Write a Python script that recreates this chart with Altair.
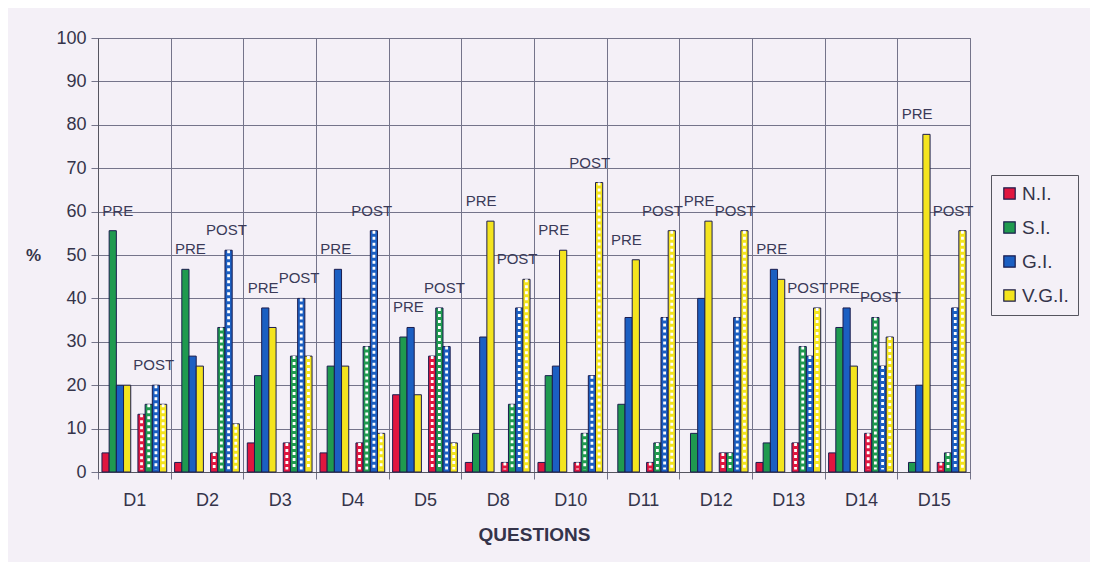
import altair as alt
import pandas as pd

questions = ["D1", "D2", "D3", "D4", "D5", "D8", "D10", "D11", "D12", "D13", "D14", "D15"]
levels = ["N.I.", "S.I.", "G.I.", "V.G.I."]
level_colors = ["#e0163f", "#1f9a4f", "#1b5fc2", "#f4e41e"]
phases = ["PRE", "POST"]

pre_ni = [4.4, 2.2, 6.7, 4.4, 17.8, 2.2, 2.2, 0.0, 0.0, 2.2, 4.4, 0.0]
pre_si = [55.6, 46.7, 22.2, 24.4, 31.1, 8.9, 22.2, 15.6, 8.9, 6.7, 33.3, 2.2]
pre_gi = [20.0, 26.7, 37.8, 46.7, 33.3, 31.1, 24.4, 35.6, 40.0, 46.7, 37.8, 20.0]
pre_vgi = [20.0, 24.4, 33.3, 24.4, 17.8, 57.8, 51.1, 48.9, 57.8, 44.4, 24.4, 77.8]

post_ni = [13.3, 4.4, 6.7, 6.7, 26.7, 2.2, 2.2, 2.2, 4.4, 6.7, 8.9, 2.2]
post_si = [15.6, 33.3, 26.7, 28.9, 37.8, 15.6, 8.9, 6.7, 4.4, 28.9, 35.6, 4.4]
post_gi = [20.0, 51.1, 40.0, 55.6, 28.9, 37.8, 22.2, 35.6, 35.6, 26.7, 24.4, 37.8]
post_vgi = [15.6, 11.1, 26.7, 8.9, 6.7, 44.4, 66.7, 55.6, 55.6, 37.8, 31.1, 55.6]

series = {
    ("PRE", "N.I."): pre_ni, ("PRE", "S.I."): pre_si,
    ("PRE", "G.I."): pre_gi, ("PRE", "V.G.I."): pre_vgi,
    ("POST", "N.I."): post_ni, ("POST", "S.I."): post_si,
    ("POST", "G.I."): post_gi, ("POST", "V.G.I."): post_vgi,
}

slots = [f"PRE-{l}" for l in levels] + ["gap"] + [f"POST-{l}" for l in levels]

rows = []
for (ph, lv), vals in series.items():
    for q, v in zip(questions, vals):
        rows.append({"question": q, "phase": ph, "level": lv, "slot": f"{ph}-{lv}", "value": v})
df = pd.DataFrame(rows)

lab_rows = []
for q in questions:
    for ph in phases:
        m = df[(df.question == q) & (df.phase == ph)]["value"].max()
        lab_rows.append({"question": q, "phase": ph, "slot": f"{ph}-S.I.", "value": m})
labels_df = pd.DataFrame(lab_rows)

BG = "#f4f0f7"
INK = "#34344a"
GRID = "#74748a"
FONT = "Liberation Sans"

x_scale = alt.Scale(domain=questions, paddingInner=0, paddingOuter=0)
off_scale = alt.Scale(domain=slots, paddingInner=0, paddingOuter=0.55)
y_scale = alt.Scale(domain=[0, 100], nice=False)

x_axis = alt.Axis(
    title="QUESTIONS", titleFontSize=19, titleFontWeight="bold", titleColor=INK,
    titlePadding=16, labelFontSize=18, labelColor=INK, labelAngle=0, labelPadding=12,
    tickBand="extent", grid=True, gridColor=GRID, gridWidth=1, tickSize=7,
    tickColor=GRID, domainColor="#555560", labelFont=FONT, titleFont=FONT,
)
y_axis = alt.Axis(
    title="%", titleAngle=0, titleFontSize=17, titleFontWeight="bold", titleColor=INK,
    titleX=-65, titleY=217, titleAlign="center", titleBaseline="middle",
    values=list(range(0, 101, 10)), labelFontSize=18, labelColor=INK, labelPadding=5,
    grid=True, gridColor=GRID, gridWidth=1, tickSize=7, tickColor=GRID,
    domainColor="#555560", labelFont=FONT, titleFont=FONT,
)

bars = alt.Chart(df[df.value > 0]).mark_bar(stroke="#1b1d4e", strokeWidth=1).encode(
    x=alt.X("question:N", scale=x_scale, axis=x_axis, sort=questions),
    xOffset=alt.XOffset("slot:N", scale=off_scale, sort=slots),
    y=alt.Y("value:Q", scale=y_scale, axis=y_axis),
    color=alt.Color(
        "level:N",
        scale=alt.Scale(domain=levels, range=level_colors),
        sort=levels,
        legend=alt.Legend(
            title=None, orient="none", legendX=893, legendY=137,
            strokeColor="#55555f", fillColor=BG, padding=9,
            symbolType="square", symbolSize=130, symbolStrokeColor="#1b1d4e",
            symbolStrokeWidth=1.2, labelFontSize=19, labelColor=INK, labelFont=FONT,
            rowPadding=14, labelOffset=3, symbolOpacity=1,
        ),
    ),
)

hatch = alt.Chart(df[(df.phase == "POST") & (df.value > 0)]).mark_rule(
    color="white", strokeWidth=2.8, strokeDash=[3, 3]
).encode(
    x=alt.X("question:N", scale=x_scale, sort=questions),
    xOffset=alt.XOffset("slot:N", scale=off_scale, sort=slots),
    y=alt.Y("value:Q", scale=y_scale),
    y2=alt.datum(0.6),
)

texts = alt.Chart(labels_df).mark_text(
    fontSize=15, color="#3a3a58", baseline="bottom", dy=-12, dx=5, font=FONT
).encode(
    x=alt.X("question:N", scale=x_scale, sort=questions),
    xOffset=alt.XOffset("slot:N", scale=off_scale, sort=slots),
    y=alt.Y("value:Q", scale=y_scale),
    text="phase:N",
)

chart = alt.layer(bars, hatch, texts).properties(
    width=872, height=434,
    padding={"left": 90, "top": 30, "right": 120, "bottom": 90},
    autosize=alt.AutoSizeParams(type="none"),
    background=BG,
).configure_view(stroke=GRID, fill=BG)

chart.save("out.html", embed_options={"renderer": "svg", "actions": False})
